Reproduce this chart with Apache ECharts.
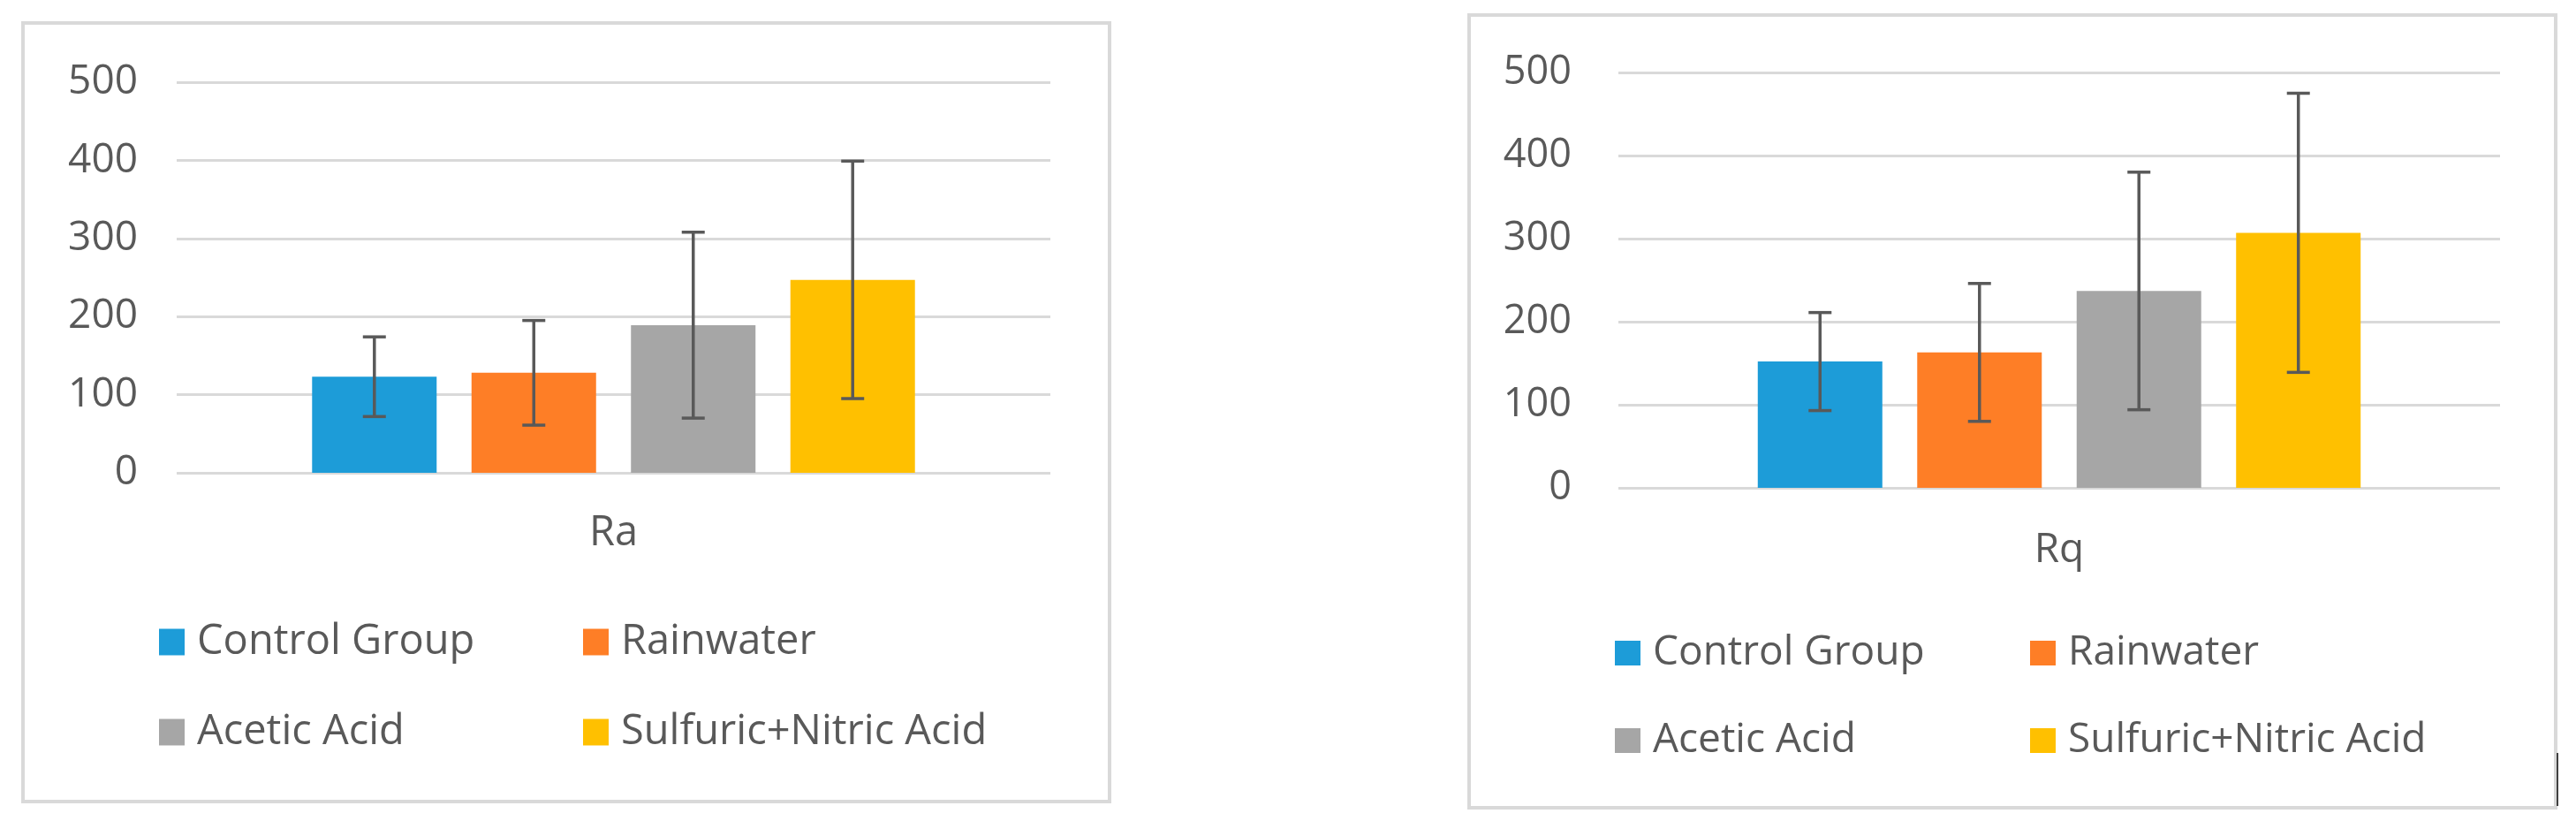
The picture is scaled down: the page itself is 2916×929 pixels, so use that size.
<!DOCTYPE html>
<html><head><meta charset="utf-8">
<script src="https://cdn.jsdelivr.net/npm/echarts@6/dist/echarts.min.js"></script>
<style>html,body{margin:0;padding:0;background:#fff}#c{width:2916px;height:929px}</style>
</head><body><div id="c"></div>
<script>
// ---- data ----
const seriesNames = ['Control Group', 'Rainwater', 'Acetic Acid', 'Sulfuric+Nitric Acid'];
const raCategory = ['Ra'];
const rqCategory = ['Rq'];
const raValues = [123, 128, 189, 247];
const raErrors = [51, 67, 119, 152];
const rqValues = [152, 163, 237, 307];
const rqErrors = [59, 83, 143, 168];
const yMin = 0, yMax = 500, yInterval = 100;

// ---- style ----
const colors = ['#1D9CD8', '#FE7E26', '#A6A6A6', '#FFC000'];
const textColor = '#595959';
const gridColor = '#d9d9d9';
const FONT = 'Open Sans';
const BAR_W = 141, GAP = 0.28;

function yAxis(idx, fs, margin) {
  return {
    type: 'value', gridIndex: idx, min: yMin, max: yMax, interval: yInterval,
    axisLine: {show: false}, axisTick: {show: false},
    splitLine: {lineStyle: {color: gridColor, width: 3}},
    axisLabel: {color: textColor, fontSize: fs, fontFamily: FONT, margin: margin}
  };
}
function xAxis(idx, cats, fs, margin) {
  return {
    type: 'category', gridIndex: idx, data: cats,
    axisLine: {show: false}, axisTick: {show: false},
    axisLabel: {color: textColor, fontSize: fs, fontFamily: FONT, margin: margin}
  };
}
function bars(idx, values) {
  return values.map((v, i) => ({
    type: 'bar', name: seriesNames[i], xAxisIndex: idx, yAxisIndex: idx,
    data: [v], barWidth: BAR_W, barGap: (GAP * 100) + '%',
    itemStyle: {color: colors[i]}, z: 2, silent: true
  }));
}
function errSeries(idx, values, errors) {
  const n = values.length;
  return {
    type: 'custom', xAxisIndex: idx, yAxisIndex: idx, z: 10, silent: true,
    data: values.map((v, i) => [0, v, errors[i], i]),
    renderItem: function (params, api) {
      const cat = api.value(0), v = api.value(1), e = api.value(2), k = api.value(3);
      const top = api.coord([cat, v + e]);
      const bot = api.coord([cat, v - e]);
      const x = top[0] + (k - (n - 1) / 2) * BAR_W * (1 + GAP);
      const hw = 13;
      const st = {stroke: '#595959', lineWidth: 3.5};
      return {type: 'group', children: [
        {type: 'line', shape: {x1: x, y1: top[1], x2: x, y2: bot[1]}, style: st},
        {type: 'line', shape: {x1: x - hw, y1: top[1], x2: x + hw, y2: top[1]}, style: st},
        {type: 'line', shape: {x1: x - hw, y1: bot[1], x2: x + hw, y2: bot[1]}, style: st}
      ]};
    }
  };
}
function legend(name, left, top, fs, iw, ih) {
  return {
    data: [name], left: left, top: top, padding: 0, itemGap: 0,
    itemWidth: iw, itemHeight: ih, icon: 'rect', selectedMode: false,
    textStyle: {color: textColor, fontSize: fs, fontFamily: FONT, padding: [0, 0, 0, 9]}
  };
}

const option = {
  animation: false,
  backgroundColor: '#fff',
  grid: [
    {left: 200, top: 93, width: 989, height: 442},
    {left: 1832, top: 82, width: 998, height: 470}
  ],
  xAxis: [xAxis(0, raCategory, 47, 45), xAxis(1, rqCategory, 46, 48)],
  yAxis: [yAxis(0, 46, 44), yAxis(1, 45, 53)],
  legend: [
    legend(seriesNames[0], 180, 703, 47, 29, 30),
    legend(seriesNames[1], 660, 703, 47, 29, 30),
    legend(seriesNames[2], 180, 805, 47, 29, 30),
    legend(seriesNames[3], 660, 805, 47, 29, 30),
    legend(seriesNames[0], 1828, 716, 46, 29, 28),
    legend(seriesNames[1], 2298, 716, 46, 29, 28),
    legend(seriesNames[2], 1828, 815, 46, 29, 28),
    legend(seriesNames[3], 2298, 815, 46, 29, 28)
  ],
  graphic: [
    {type: 'rect', shape: {x: 26, y: 26, width: 1230, height: 881}, style: {fill: 'none', stroke: gridColor, lineWidth: 4}, z: 0},
    {type: 'rect', shape: {x: 1663, y: 17, width: 1230, height: 897}, style: {fill: 'none', stroke: gridColor, lineWidth: 4}, z: 0},
    {type: 'line', shape: {x1: 2895, y1: 852, x2: 2895, y2: 912}, style: {stroke: '#404040', lineWidth: 2}, z: 1}
  ],
  series: [].concat(
    bars(0, raValues), bars(1, rqValues),
    [errSeries(0, raValues, raErrors), errSeries(1, rqValues, rqErrors)]
  )
};
const chart = echarts.init(document.getElementById('c'));
chart.setOption(option);
</script>
</body></html>
